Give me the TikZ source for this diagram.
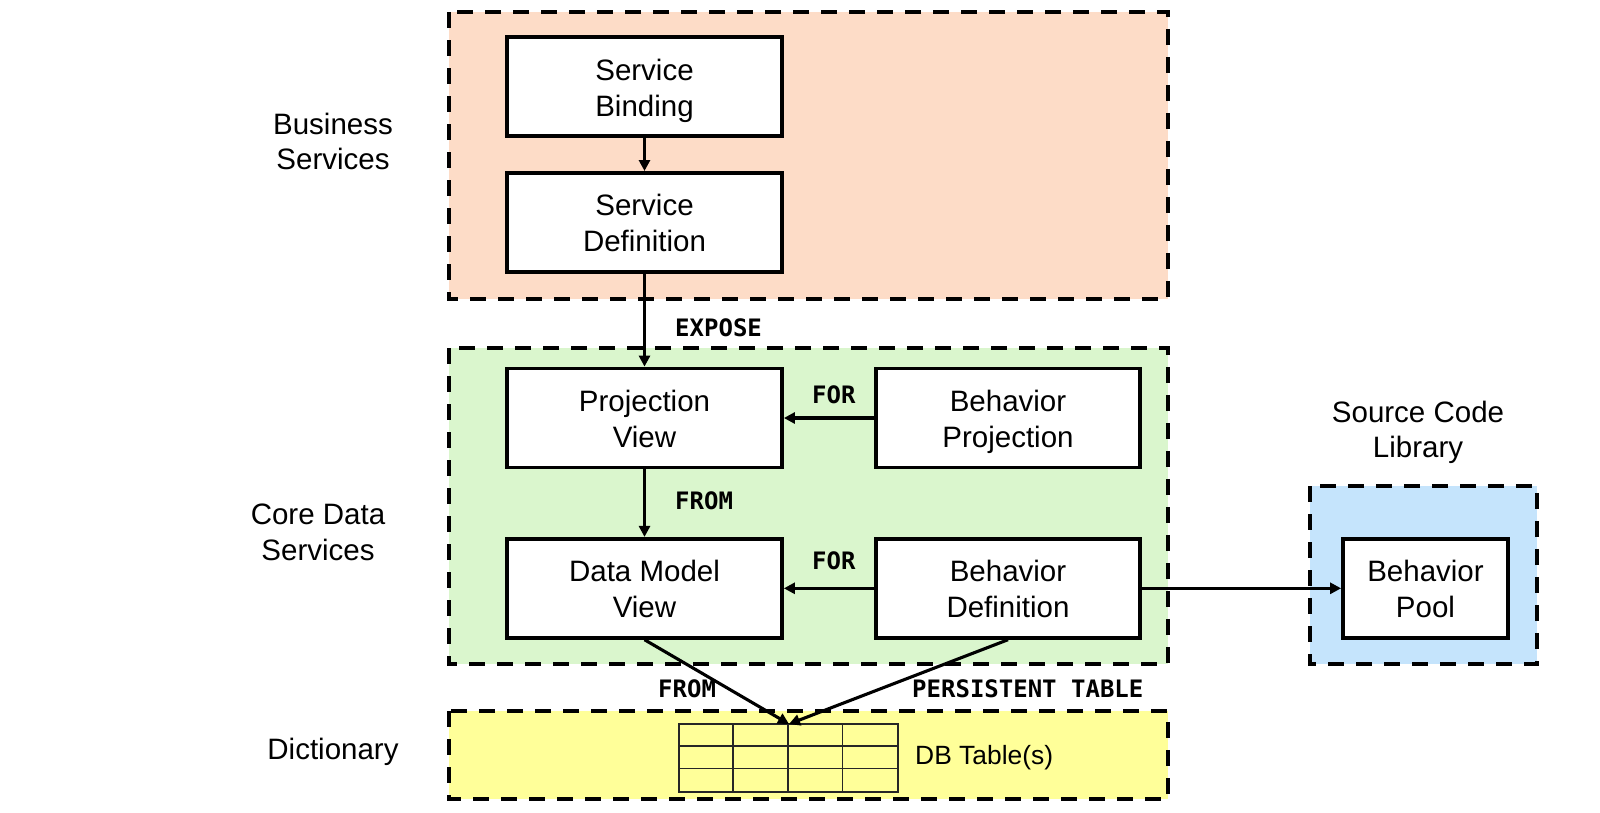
\documentclass[tikz,border=0pt]{standalone}
\usepackage{fontspec}
\setmainfont{Liberation Sans}
\newfontfamily\monofont{DejaVu Sans Mono}
\usetikzlibrary{arrows.meta}
\definecolor{orangebg}{RGB}{253,220,199}
\definecolor{greenbg}{RGB}{218,246,205}
\definecolor{bluebg}{RGB}{197,228,252}
\definecolor{yellowbg}{RGB}{255,255,153}
% two-line box text, pushed down by #1 (extra space added on top is 2x#1)
\newcommand{\twol}[3][4pt]{\raisebox{0pt}[\dimexpr\height+2\dimexpr#1\relax\relax][\depth]{\begin{tabular}{@{}c@{}}#2\\#3\end{tabular}}}
\begin{document}
\begin{tikzpicture}[x=1pt,y=-1pt,
  frame/.style={draw=black,line width=4pt,dash pattern=on 16pt off 12pt},
  box/.style={draw=black,fill=white,line width=3.8pt,inner sep=0pt,
    minimum width=275pt,minimum height=99pt,font=\fontsize{29.5}{35.7}\selectfont},
  lbl/.style={align=center,inner sep=0pt,font=\fontsize{29.5}{35.7}\selectfont},
  kw/.style={inner sep=0pt,anchor=west,font=\monofont\bfseries\fontsize{24}{26}\selectfont},
  arr/.style={line width=3.1pt,-{Triangle[length=11pt,width=11pt]}}]
\useasboundingbox (0,0) rectangle (1600,812);
% frames
\path[frame,fill=orangebg] (449,12) rectangle (1168,299);
\path[frame,fill=greenbg] (449,348) rectangle (1168,664);
\path[frame,fill=yellowbg] (449,711) rectangle (1168,799);
\path[frame,fill=bluebg] (1310,486) rectangle (1537,664);
% layer labels
\node[lbl] (bs) at (333,141.5) {Business\\Services};
\node[lbl] (cds) at (318,532) {Core Data\\Services};
\node[lbl] (dict) at (333,752) {Dictionary};
\node[lbl] (scl) at (1418,432.5) {Source Code\\Library};
% boxes
\node[box] (sb) at (644.5,86.5) {\twol[5pt]{Service}{Binding}};
\node[box] (sd) at (644.5,222.4) {\twol{Service}{Definition}};
\node[box] (pv) at (644.5,418) {\twol{Projection}{View}};
\node[box,minimum width=264pt] (bp) at (1008,418) {\twol{Behavior}{Projection}};
\node[box] (dmv) at (644.5,588.3) {\twol{Data Model}{View}};
\node[box,minimum width=264pt] (bd) at (1008,588.3) {\twol{Behavior}{Definition}};
\node[box,minimum width=165pt] (pool) at (1425.5,588.3) {\twol{Behavior}{Pool}};
% table
\node[draw=black!85,line width=1.6pt,inner sep=0pt,minimum width=219pt,minimum height=68pt] (tbl) at (788.5,758) {};
\foreach \i in {1,2,3} \draw[line width=1.6pt,draw=black!85] ([xshift=\i*54.75pt]tbl.north west) -- ([xshift=\i*54.75pt]tbl.south west);
\foreach \j in {1,2} \draw[line width=1.6pt,draw=black!85] ([yshift=-\j*22.67pt]tbl.north west) -- ([yshift=-\j*22.67pt]tbl.north east);
\coordinate (tbltop) at (789,724);
\node[inner sep=0pt,anchor=west,font=\fontsize{26.4}{30}\selectfont] (dbt) at (915,758) {DB Table(s)};
% connectors
\draw[arr] (sb.south) -- (sd.north);
\draw[arr] (sd.south) -- (pv.north);
\draw[arr] (bp.west) -- (pv.east);
\draw[arr] (pv.south) -- (dmv.north);
\draw[arr] (bd.west) -- (dmv.east);
\draw[arr] (bd.east) -- (pool.west);
\draw[arr] (dmv.south) -- (tbltop);
\draw[arr] (bd.south) -- (tbltop);
% keyword labels
\node[kw] (k1) at (675,328) {EXPOSE};
\node[kw] (k2) at (812,395) {FOR};
\node[kw] (k3) at (675,501) {FROM};
\node[kw] (k4) at (812,561) {FOR};
\node[kw] (k5) at (658,689) {FROM};
\node[kw] (k6) at (912,689) {PERSISTENT TABLE};
\end{tikzpicture}
\end{document}
